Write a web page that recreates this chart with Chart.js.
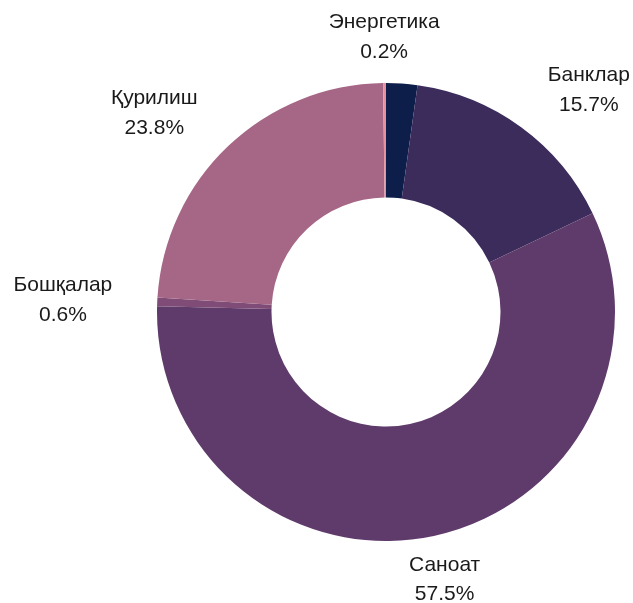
<!DOCTYPE html>
<html>
<head>
<meta charset="utf-8">
<script src="https://cdn.jsdelivr.net/npm/chart.js@4"></script>
<style>
  html, body { margin: 0; padding: 0; background: #fff; }
  #wrap { width: 633px; height: 603px; }
</style>
</head>
<body>
<div id="wrap"><canvas id="myChart" width="633" height="603"></canvas></div>
<script>
// Data (percent shares), clockwise from 12 o'clock
const sectors = ['', 'Банклар', 'Саноат', 'Бошқалар', 'Қурилиш', 'Энергетика'];
const shares = [2.2, 15.7, 57.5, 0.6, 23.8, 0.2];
const sliceColors = ['#0e1e4a', '#3b2c5c', '#5f3b6b', '#7e4c76', '#a66685', '#e6919e'];

// small label nudges (px) on top of the generic outside placement
const labelNudge = [[0, 0], [34, 0], [0, -1.5], [-29, 0], [-33, 0], [0, 0]];

const outsideLabels = {
    id: 'outsideLabels',
    afterDatasetsDraw(chart) {
        const ctx = chart.ctx;
        const arcs = chart.getDatasetMeta(0).data;
        ctx.save();
        ctx.font = '21px "Liberation Sans", Arial, sans-serif';
        ctx.fillStyle = '#1a1a1a';
        ctx.textAlign = 'center';
        ctx.textBaseline = 'middle';
        arcs.forEach((arc, i) => {
            if (!sectors[i]) return;
            const a = (arc.startAngle + arc.endAngle) / 2;
            const r0 = arc.outerRadius + 16;
            const line2 = shares[i].toFixed(1) + '%';
            const hw = Math.max(ctx.measureText(sectors[i]).width, ctx.measureText(line2).width) / 2;
            const hh = 30;
            const x = arc.x + Math.cos(a) * (r0 + hw) + labelNudge[i][0];
            const y = arc.y + Math.sin(a) * (r0 + hh) + labelNudge[i][1];
            ctx.fillText(sectors[i], x, y - 14.5);
            ctx.fillText(line2, x, y + 15);
        });
        ctx.restore();
    }
};

const ctx = document.getElementById('myChart').getContext('2d');
new Chart(ctx, {
    type: 'doughnut',
    data: {
        labels: sectors,
        datasets: [{
            data: shares,
            backgroundColor: sliceColors,
            borderWidth: 0
        }]
    },
    options: {
        responsive: false,
        animation: false,
        cutout: '50%',
        layout: { padding: { left: 157, right: 18, top: 83, bottom: 62 } },
        plugins: {
            legend: { display: false },
            tooltip: { enabled: false }
        }
    },
    plugins: [outsideLabels]
});
</script>
</body>
</html>
